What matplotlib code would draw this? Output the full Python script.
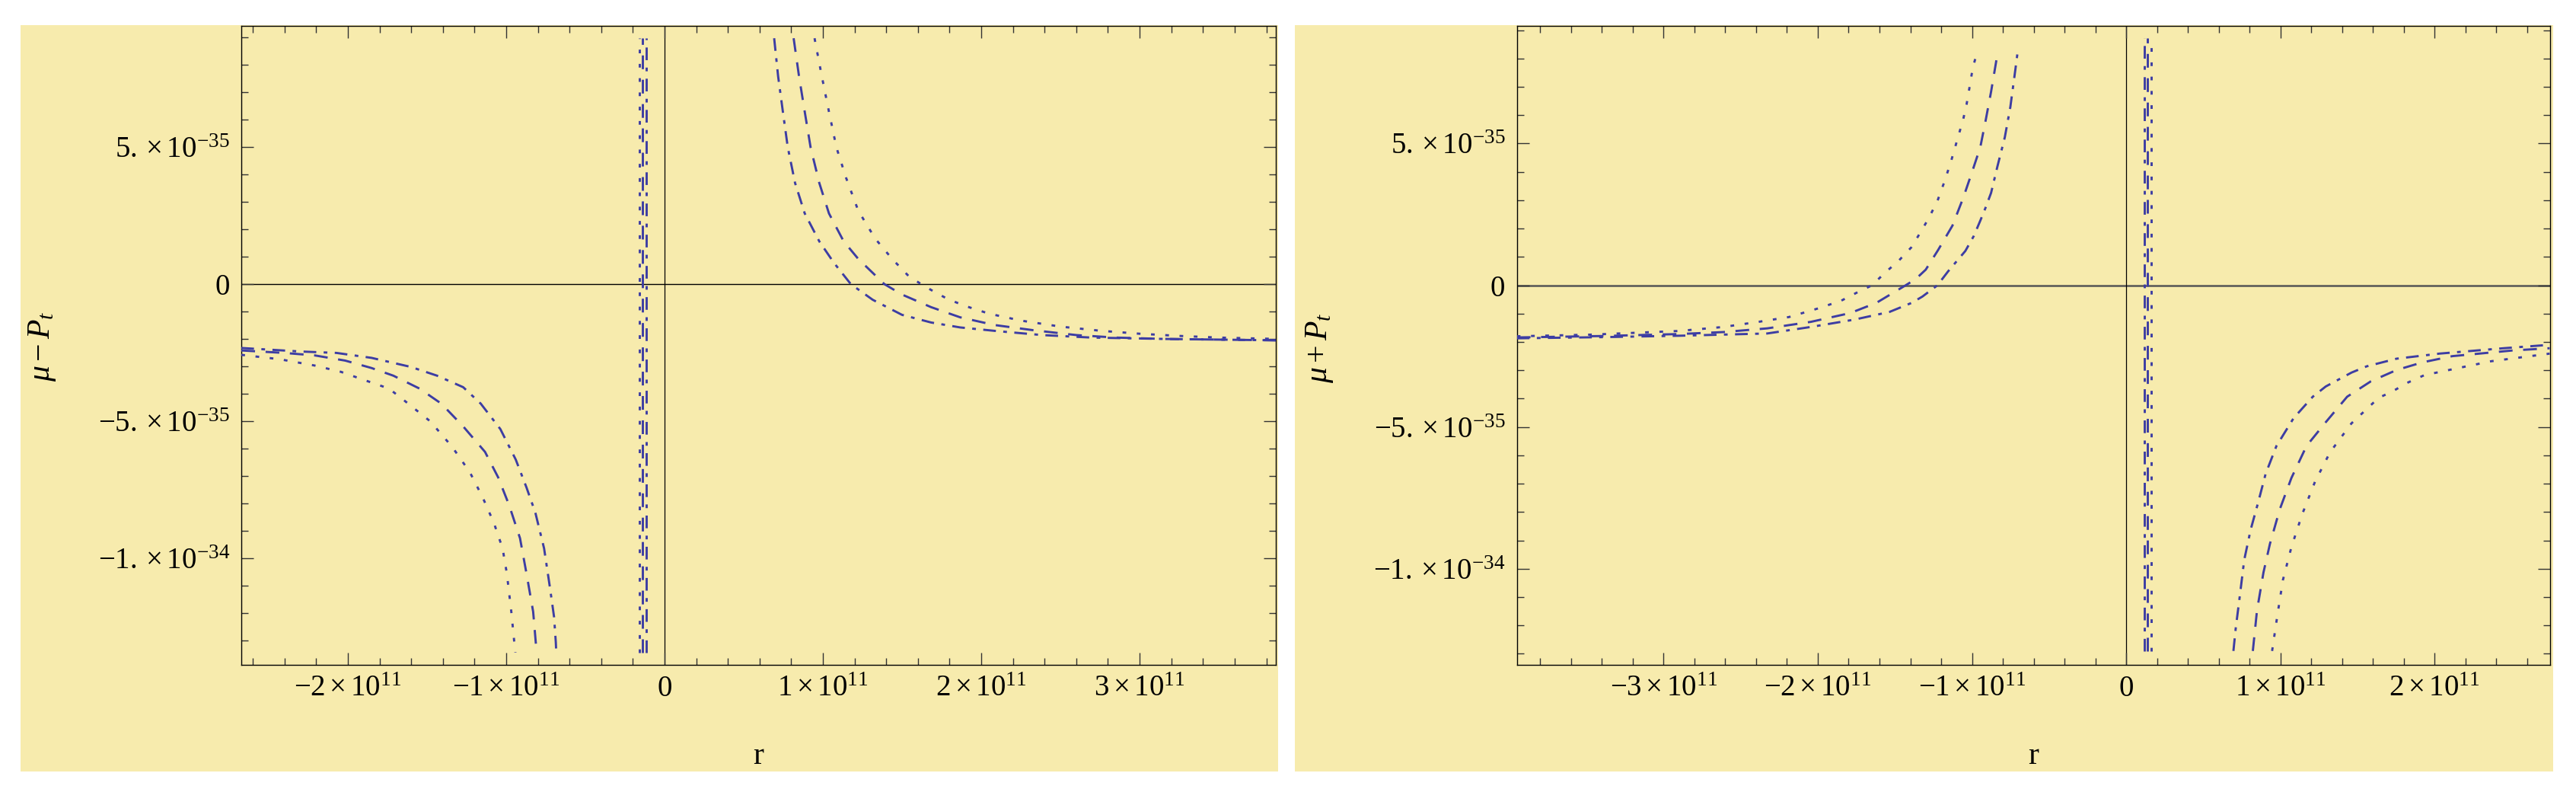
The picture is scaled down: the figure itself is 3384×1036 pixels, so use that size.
import numpy as np
import matplotlib
matplotlib.use("Agg")
import matplotlib.pyplot as plt
from matplotlib.patches import Rectangle
from matplotlib.ticker import FixedLocator, MultipleLocator, FixedFormatter

# ---------------- data (r in units of 1e11, values in units of 1e-35) ----------------
R_UNIT = 1e11
V_UNIT = 1e-35

# Left panel: mu - P_t
L_low_dot_r = [-2.673, -2.431, -2.210, -2.044, -1.906, -1.741, -1.658, -1.479, -1.341, -1.230, -1.148, -1.078, -1.023, -0.996, -0.968, -0.946, -0.942]
L_low_dot_v = [-2.58, -2.74, -2.97, -3.20, -3.48, -3.81, -4.18, -5.01, -5.94, -6.86, -7.79, -8.71, -9.64, -10.56, -11.95, -13.25, -13.44]
L_low_dash_r = [-2.673, -2.403, -2.210, -2.017, -1.851, -1.713, -1.548, -1.410, -1.272, -1.134, -1.051, -0.982, -0.913, -0.872, -0.830, -0.808]
L_low_dash_v = [-2.42, -2.51, -2.60, -2.79, -3.06, -3.34, -3.81, -4.36, -5.19, -6.12, -7.05, -8.06, -9.27, -10.56, -11.95, -13.44]
L_low_dd_r = [-2.673, -2.293, -2.072, -1.851, -1.603, -1.437, -1.272, -1.161, -1.037, -0.940, -0.872, -0.816, -0.761, -0.725, -0.698, -0.687, -0.684]
L_low_dd_v = [-2.33, -2.46, -2.51, -2.69, -3.02, -3.34, -3.76, -4.36, -5.29, -6.40, -7.42, -8.34, -9.64, -11.03, -12.14, -13.06, -13.44]

L_up_dot_r = [0.947, 0.993, 1.038, 1.085, 1.146, 1.223, 1.330, 1.437, 1.540, 1.620, 1.700, 1.790, 1.900, 2.050, 2.250, 2.500, 2.750, 3.000, 3.250, 3.500, 3.860]
L_up_dot_v = [8.97, 7.58, 6.29, 4.99, 3.88, 2.68, 1.66, 0.92, 0.30, 0.00, -0.27, -0.55, -0.80, -1.08, -1.33, -1.55, -1.70, -1.81, -1.89, -1.95, -2.00]
L_up_dash_r = [0.815, 0.849, 0.885, 0.922, 0.977, 1.038, 1.131, 1.223, 1.388, 1.499, 1.683, 1.866, 2.081, 2.326, 2.602, 2.848, 3.154, 3.860]
L_up_dash_v = [8.97, 7.58, 6.29, 4.99, 3.69, 2.58, 1.56, 0.92, 0.00, -0.38, -0.84, -1.21, -1.49, -1.68, -1.86, -1.95, -2.00, -2.05]
L_up_dd_r = [0.692, 0.717, 0.747, 0.778, 0.824, 0.885, 0.977, 1.069, 1.176, 1.314, 1.499, 1.683, 1.866, 2.111, 2.388, 2.694, 3.154, 3.860]
L_up_dd_v = [8.97, 7.58, 6.29, 4.99, 3.69, 2.58, 1.56, 0.78, 0.00, -0.57, -1.12, -1.40, -1.58, -1.72, -1.86, -1.95, -2.00, -2.05]

L_pole_r = [-0.159, -0.139, -0.115]      # dotted, dashed, dash-dot
L_pole_v = [-13.44, 8.97]

# Right panel: mu + P_t
R_up_dot_r = [-3.953, -3.463, -2.896, -2.612, -2.385, -2.187, -1.988, -1.847, -1.733, -1.648, -1.563, -1.478, -1.393, -1.336, -1.280, -1.223, -1.181, -1.138, -1.095, -1.057, -1.035, -1.015, -0.996, -0.968]
R_up_dot_v = [-1.80, -1.74, -1.61, -1.47, -1.29, -1.12, -0.80, -0.54, -0.22, 0.00, 0.45, 0.85, 1.34, 1.85, 2.37, 2.99, 3.62, 4.33, 5.14, 5.85, 6.38, 7.01, 7.63, 8.21]
R_up_dash_r = [-3.953, -3.400, -2.900, -2.612, -2.328, -2.045, -1.790, -1.620, -1.430, -1.365, -1.300, -1.219, -1.127, -1.057, -1.001, -0.946, -0.910, -0.876, -0.840, -0.829]
R_up_dash_v = [-1.84, -1.79, -1.72, -1.65, -1.52, -1.29, -0.98, -0.62, 0.00, 0.22, 0.55, 1.25, 2.10, 3.08, 3.97, 4.87, 5.85, 6.83, 7.99, 8.26]
R_up_dd_r = [-3.953, -3.400, -2.900, -2.328, -2.045, -1.762, -1.535, -1.391, -1.322, -1.224, -1.155, -1.099, -1.043, -0.988, -0.946, -0.913, -0.876, -0.835, -0.787, -0.751, -0.718, -0.701]
R_up_dd_v = [-1.87, -1.83, -1.78, -1.70, -1.47, -1.21, -0.94, -0.62, -0.40, 0.00, 0.49, 0.85, 1.21, 1.74, 2.28, 2.72, 3.26, 4.19, 5.22, 6.29, 7.63, 8.35]

R_low_dot_r = [0.947, 0.981, 1.017, 1.072, 1.142, 1.226, 1.323, 1.462, 1.638, 1.726, 1.824, 1.935, 2.172, 2.367, 2.748]
R_low_dot_v = [-12.90, -11.65, -10.40, -9.24, -8.08, -6.92, -5.89, -4.87, -3.97, -3.75, -3.44, -3.17, -2.90, -2.68, -2.41]
R_low_dash_r = [0.822, 0.849, 0.891, 0.933, 0.997, 1.072, 1.170, 1.295, 1.434, 1.587, 1.754, 1.921, 2.116, 2.506, 2.748]
R_low_dash_v = [-12.90, -11.47, -10.13, -9.12, -7.90, -6.80, -5.67, -4.83, -3.93, -3.39, -2.99, -2.72, -2.50, -2.30, -2.22]
R_low_dd_r = [0.696, 0.711, 0.738, 0.766, 0.808, 0.858, 0.905, 0.975, 1.086, 1.211, 1.295, 1.462, 1.560, 1.754, 2.033, 2.450, 2.748]
R_low_dd_v = [-12.90, -12.10, -10.94, -9.69, -8.62, -7.63, -6.65, -5.67, -4.69, -3.93, -3.57, -3.08, -2.86, -2.59, -2.41, -2.22, -2.10]

R_pole_r = [0.161, 0.138, 0.117]         # dotted, dashed, dash-dot
R_pole_v = [-12.90, 8.71]

# ticks / labels
L_xticks = [-2e11, -1e11, 0, 1e11, 2e11, 3e11]
L_xlabels = [r'$-2\times10^{11}$', r'$-1\times10^{11}$', '0', r'$1\times10^{11}$', r'$2\times10^{11}$', r'$3\times10^{11}$']
R_xticks = [-3e11, -2e11, -1e11, 0, 1e11, 2e11]
R_xlabels = [r'$-3\times10^{11}$', r'$-2\times10^{11}$', r'$-1\times10^{11}$', '0', r'$1\times10^{11}$', r'$2\times10^{11}$']
yticks = [5e-35, 0, -5e-35, -1e-34]
ylabels = [r'$5.\times10^{-35}$', '0', r'$-5.\times10^{-35}$', r'$-1.\times10^{-34}$']

# ---------------- style ----------------
plt.rcParams['font.family'] = ['Liberation Serif', 'DejaVu Serif']
plt.rcParams['mathtext.fontset'] = 'custom'
plt.rcParams['mathtext.rm'] = 'Liberation Serif'
plt.rcParams['mathtext.it'] = 'Liberation Serif:italic'
plt.rcParams['mathtext.bf'] = 'Liberation Serif:bold'
plt.rcParams['lines.scale_dashes'] = False

BG = '#F7EBAD'
LC = '#3D3DA3'
LW = 2.1
DASH = {'dot': (0, (3.5, 10)), 'dash': (0, (13, 10)), 'dd': (0, (12, 7, 3.5, 7))}

W, H = 3384, 1036
fig = plt.figure(figsize=(W / 100, H / 100), dpi=100)
fig.patch.set_facecolor('white')

def px_rect(x0, y0, x1, y1):
    return [x0 / W, 1 - y1 / H, (x1 - x0) / W, (y1 - y0) / H]

for (x0, y0, x1, y1) in [(27, 33, 1679, 1013), (1701, 33, 3354, 1013)]:
    r = px_rect(x0, y0, x1, y1)
    fig.patches.append(Rectangle((r[0], r[1]), r[2], r[3], transform=fig.transFigure,
                                 facecolor=BG, edgecolor='none', zorder=-10))

axL = fig.add_axes(px_rect(317, 34, 1676, 873))
axR = fig.add_axes(px_rect(1992.5, 34, 3349.5, 873))

def setup(ax, xlim, ylim, xt, xl, zero_h_style):
    ax.set_facecolor('none')
    ax.set_zorder(5)
    ax.set_xlim(*xlim)
    ax.set_ylim(*ylim)
    ax.xaxis.set_major_locator(FixedLocator(xt))
    ax.xaxis.set_major_formatter(FixedFormatter(xl))
    ax.yaxis.set_major_locator(FixedLocator(yticks))
    ax.yaxis.set_major_formatter(FixedFormatter(ylabels))
    ax.xaxis.set_minor_locator(MultipleLocator(0.2e11))
    ax.yaxis.set_minor_locator(MultipleLocator(1e-35))
    ax.tick_params(which='both', direction='in', top=True, right=True, color='#333333', width=1.0)
    ax.tick_params(which='major', length=11.5)
    ax.tick_params(which='minor', length=6.5)
    ax.tick_params(axis='x', which='major', labelsize=28, pad=9)
    ax.tick_params(axis='y', which='major', labelsize=28, pad=11)
    for s in ax.spines.values():
        s.set_linewidth(1.0)
        s.set_color('black')
    ax.axhline(0, **zero_h_style, zorder=1)
    ax.axvline(0, color='black', lw=0.9, zorder=1)

setup(axL, (-2.673e11, 3.86e11), (-1.389e-34, 9.42e-35), L_xticks, L_xlabels,
      dict(color='black', lw=1.0))
setup(axR, (-3.953e11, 2.748e11), (-1.339e-34, 9.15e-35), R_xticks, R_xlabels,
      dict(color='#555555', lw=1.8))

def draw(ax, r, v, style):
    ax.plot(np.asarray(r) * R_UNIT, np.asarray(v) * V_UNIT, color=LC, lw=LW,
            linestyle=DASH[style], zorder=3, solid_capstyle='butt', dash_capstyle='butt')

draw(axL, L_low_dot_r, L_low_dot_v, 'dot')
draw(axL, L_low_dash_r, L_low_dash_v, 'dash')
draw(axL, L_low_dd_r, L_low_dd_v, 'dd')
draw(axL, L_up_dot_r, L_up_dot_v, 'dot')
draw(axL, L_up_dash_r, L_up_dash_v, 'dash')
draw(axL, L_up_dd_r, L_up_dd_v, 'dd')
for p, st in zip(L_pole_r, ['dot', 'dash', 'dd']):
    draw(axL, [p, p], L_pole_v, st)

draw(axR, R_up_dot_r, R_up_dot_v, 'dot')
draw(axR, R_up_dash_r, R_up_dash_v, 'dash')
draw(axR, R_up_dd_r, R_up_dd_v, 'dd')
draw(axR, R_low_dot_r, R_low_dot_v, 'dot')
draw(axR, R_low_dash_r, R_low_dash_v, 'dash')
draw(axR, R_low_dd_r, R_low_dd_v, 'dd')
for p, st in zip(R_pole_r, ['dot', 'dash', 'dd']):
    draw(axR, [p, p], R_pole_v, st)

# axis labels (placed in pixel positions of the reference)
fig.text(55 / W, 1 - 455 / H, r'$\mu-P_t$', rotation=90, ha='center', va='center', fontsize=30)
fig.text(1733 / W, 1 - 457 / H, r'$\mu+P_t$', rotation=90, ha='center', va='center', fontsize=30)
fig.text(996 / W, 1 - 1003 / H, 'r', ha='center', va='baseline', fontsize=30)
fig.text(2671 / W, 1 - 1003 / H, 'r', ha='center', va='baseline', fontsize=30)

fig.savefig('out.png', dpi=100, facecolor='white')
